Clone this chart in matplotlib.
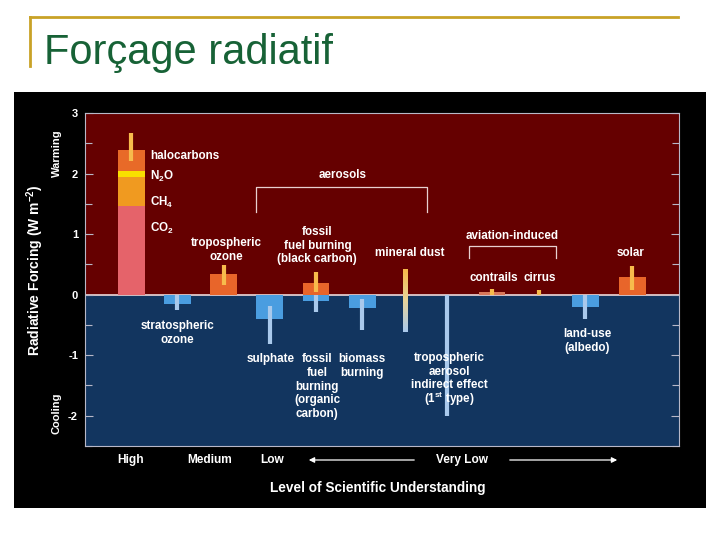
import matplotlib
matplotlib.use("Agg")
import matplotlib.pyplot as plt
from matplotlib.patches import Rectangle
from matplotlib.lines import Line2D
import numpy as np

plt.rcParams['font.family'] = ['Liberation Sans', 'DejaVu Sans']
plt.rcParams['mathtext.fontset'] = 'custom'
plt.rcParams['mathtext.rm'] = 'Liberation Sans:bold'
plt.rcParams['mathtext.bf'] = 'Liberation Sans:bold'
plt.rcParams['mathtext.default'] = 'rm'

W, H = 720, 540

# ---- data (W m-2) ----
ghg_parts = ["CO$_2$", "CH$_4$", "N$_2$O", "halocarbons"]
ghg_values = [1.46, 0.48, 0.10, 0.35]
ghg_err = [2.21, 2.67]

bar_names = ["stratospheric ozone", "tropospheric ozone", "sulphate",
             "fossil fuel (black carbon)", "fossil fuel (organic carbon)",
             "biomass burning", "contrails", "land-use (albedo)", "solar"]
bar_values = [-0.16, 0.34, -0.40, 0.19, -0.10, -0.22, 0.045, -0.21, 0.29]
bar_err_lo = [-0.26, 0.16, -0.82, 0.05, -0.28, -0.59, 0.0, -0.40, 0.08]
bar_err_hi = [0.0, 0.49, -0.19, 0.37, 0.0, -0.08, 0.10, 0.0, 0.48]

range_names = ["mineral dust", "indirect effect", "cirrus"]
range_lo = [-0.61, -2.0, 0.0]
range_hi = [0.42, 0.0, 0.08]

# slot positions along the x axis
ghg_x = 0
bar_x = [1, 2, 3, 4, 4, 5, 7.81, 9.83, 10.85]
range_x = [5.93, 6.84, 8.83]

understanding = ["High", "Medium", "Low", "Very Low"]

# ---- colours ----
WARM_BG = "#650000"
COOL_BG = "#12355f"
ghg_colors = ["#e5636a", "#f09a20", "#f8e000", "#e86a28"]
WARM_BAR = "#e8652a"
COOL_BAR = "#4a9de0"
WARM_ERR = "#f7bb4c"
COOL_ERR = "#a9c9ec"

fig = plt.figure(figsize=(7.2, 5.4), dpi=100)
fig.patch.set_facecolor("white")


def fx(px):
    return px / W


def fy(py):
    return 1 - py / H


# slide decoration
fig.add_artist(Line2D([fx(30), fx(678)], [fy(17), fy(17)], color="#c9a227", lw=2))
fig.add_artist(Line2D([fx(30), fx(30)], [fy(17), fy(66)], color="#c9a227", lw=2))
fig.text(fx(44), fy(53), "Forçage radiatif", fontsize=30, color="#176236",
         va="center", ha="left")
fig.add_artist(Rectangle((fx(14), fy(508)), fx(706 - 14), (508 - 92) / H,
                         facecolor="black", edgecolor="none", zorder=0))

ax = fig.add_axes([fx(85), fy(446), fx(679 - 85), (446 - 113) / H])
ax.axhspan(0, 3, color=WARM_BG, zorder=0)
ax.axhspan(-2.5, 0, color=COOL_BG, zorder=0)
ax.axhline(0, color="#f0d8d8", lw=1.2, zorder=1)
for s in ax.spines.values():
    s.set_color("#b8b8c8")
    s.set_linewidth(0.8)

bw = 0.58
# greenhouse gases stack
bottom = 0
for val, col in zip(ghg_values, ghg_colors):
    ax.bar(ghg_x, val, bw, bottom=bottom, color=col, zorder=2)
    bottom += val
ax.plot([ghg_x, ghg_x], ghg_err, color=WARM_ERR, lw=3, solid_capstyle="butt", zorder=3)

for i, (x, v, lo, hi) in enumerate(zip(bar_x, bar_values, bar_err_lo, bar_err_hi)):
    if v >= 0:
        col, ecol = WARM_BAR, WARM_ERR
    else:
        col, ecol = COOL_BAR, COOL_ERR
    if bar_names[i] == "contrails":
        col = "#d9785a"
    ax.bar(x, v, bw, color=col, zorder=2)
    ax.plot([x, x], [lo, hi], color=ecol, lw=3, solid_capstyle="butt", zorder=3)

# uncertainty-only ranges
for name, x, lo, hi in zip(range_names, range_x, range_lo, range_hi):
    if name == "mineral dust":
        grad = np.linspace(0, 1, 64).reshape(-1, 1)
        cmap = matplotlib.colors.LinearSegmentedColormap.from_list(
            "dust", ["#a9c9ec", "#e8d49a", "#f5b84a"])
        ax.imshow(grad, cmap=cmap, origin="lower",
                  extent=[x - 0.045, x + 0.045, lo, hi], aspect="auto", zorder=3)
    elif hi <= 0:
        ax.plot([x, x], [lo, hi], color=COOL_ERR, lw=3, solid_capstyle="butt", zorder=3)
    else:
        ax.plot([x, x], [lo, hi], color=WARM_ERR, lw=3, solid_capstyle="butt", zorder=3)
ax.set_xlim(-1.0, 11.86)
ax.set_ylim(-2.5, 3)

# ticks
ax.set_xticks([])
ax.set_yticks([3, 2, 1, 0, -1, -2])
ax.set_yticklabels(["3", "2", "1", "0", "-1", "-2"])
ax.set_yticks(np.arange(-2.5, 3.0, 0.5), minor=True)
ax.tick_params(axis="y", which="both", direction="in", left=True, right=True,
               colors="#b8b8c8", labelcolor="white", labelsize=8, pad=5)
ax.tick_params(axis="y", which="major", length=6, width=0.8)
ax.tick_params(axis="y", which="minor", length=5, width=0.8)
for t in ax.get_yticklabels():
    t.set_fontweight("bold")

tk = dict(color="white", fontsize=8.4, fontweight="bold", zorder=4)
ls = 1.2
# labels next to the greenhouse gas stack
ax.text(0.41, 2.29, "halocarbons", ha="left", va="center", **tk)
ax.text(0.41, 1.95, "N$_2$O", ha="left", va="center", **tk)
ax.text(0.41, 1.52, "CH$_4$", ha="left", va="center", **tk)
ax.text(0.41, 1.09, "CO$_2$", ha="left", va="center", **tk)

ax.text(2.06, 0.74, "tropospheric\nozone", ha="center", va="center", linespacing=ls, **tk)
ax.text(4.03, 0.81, "fossil\nfuel burning\n(black carbon)", ha="center", va="center",
        linespacing=ls, **tk)
ax.text(4.57, 1.98, "aerosols", ha="center", va="center", **tk)
ax.text(6.02, 0.68, "mineral dust", ha="center", va="center", **tk)
ax.text(8.25, 0.97, "aviation-induced", ha="center", va="center", **tk)
ax.text(7.86, 0.28, "contrails", ha="center", va="center", **tk)
ax.text(8.85, 0.28, "cirrus", ha="center", va="center", **tk)
ax.text(10.82, 0.69, "solar", ha="center", va="center", **tk)
ax.text(1.0, -0.64, "stratospheric\nozone", ha="center", va="center", linespacing=ls, **tk)
ax.text(3.01, -1.07, "sulphate", ha="center", va="center", **tk)
ax.text(4.03, -1.52, "fossil\nfuel\nburning\n(organic\ncarbon)", ha="center", va="center",
        linespacing=ls, **tk)
ax.text(5.0, -1.18, "biomass\nburning", ha="center", va="center", linespacing=ls, **tk)
ax.text(6.88, -1.27, "tropospheric\naerosol\nindirect effect",
        ha="center", va="center", linespacing=ls, **tk)
ax.text(6.88, -1.73, "(1$^{st}$ type)", ha="center", va="center", **tk)
ax.text(9.87, -0.76, "land-use\n(albedo)", ha="center", va="center", linespacing=ls, **tk)

# brackets
br = dict(color="#e8d0d0", lw=0.9, zorder=3)
ax.plot([2.71, 2.71, 6.41, 6.41], [1.37, 1.78, 1.78, 1.37], **br)
ax.plot([7.32, 7.32, 9.20, 9.20], [0.61, 0.80, 0.80, 0.61], **br)

# outer labels
ft = dict(color="white", fontweight="bold")
fig.text(fx(35), fy(270), "Radiative Forcing (W m$^{-2}$)", rotation=90, ha="center",
         va="center", fontsize=10, **ft)
fig.text(fx(57), fy(153), "Warming", rotation=90, ha="center", va="center", fontsize=8, **ft)
fig.text(fx(57), fy(413), "Cooling", rotation=90, ha="center", va="center", fontsize=8, **ft)

for lab, px in zip(understanding, [131, 210, 272, 462]):
    fig.text(fx(px), fy(460), lab, ha="center", va="center", fontsize=8.6, **ft)
arr = dict(arrowstyle="-|>", color="white", lw=0.9, mutation_scale=8)
ax.annotate("", xy=(fx(306), fy(460)), xytext=(fx(417), fy(460)),
            xycoords="figure fraction", textcoords="figure fraction", arrowprops=arr)
ax.annotate("", xy=(fx(620), fy(460)), xytext=(fx(507), fy(460)),
            xycoords="figure fraction", textcoords="figure fraction", arrowprops=arr)
fig.text(fx(378), fy(488), "Level of Scientific Understanding", ha="center", va="center",
         fontsize=9.8, **ft)

fig.savefig("out.png", dpi=100, facecolor="white")
